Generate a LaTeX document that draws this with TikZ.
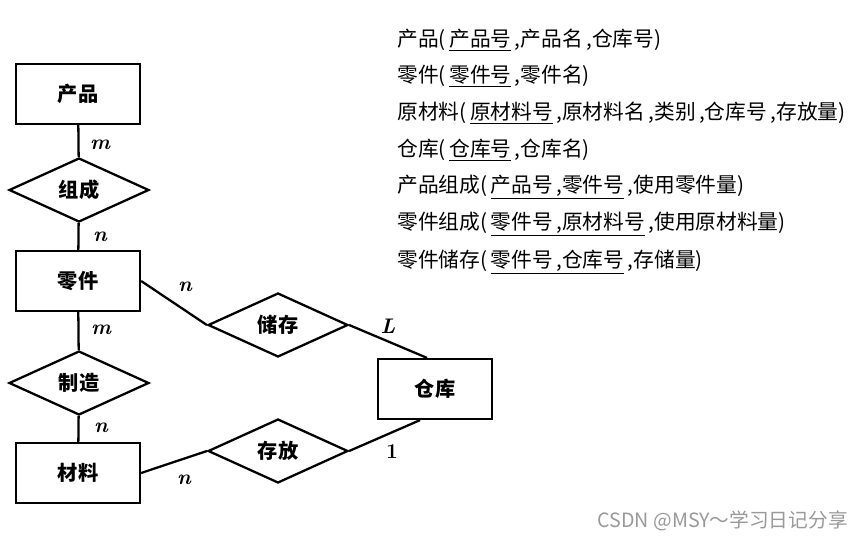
\documentclass[tikz,border=0pt]{standalone}
\usepackage{fontspec}
\newfontfamily\cjk{Noto Sans CJK SC}
\usetikzlibrary{shapes.geometric}

\begin{document}
\begin{tikzpicture}[x=0.02cm, y=-0.02cm,
    entity/.style={draw, line width=1.3pt, minimum width=2.48cm, minimum height=1.2cm, font=\cjk\fontsize{11.5}{13}\selectfont\bfseries},
    relation/.style={draw, diamond, line width=1.3pt, inner sep=0pt, minimum width=2.8cm, minimum height=1.28cm, font=\cjk\fontsize{11.5}{13}\selectfont\bfseries},
    link/.style={line width=1.3pt},
    card/.style={font=\large\bfseries\itshape},
    schema/.style={anchor=west, inner sep=0pt, font=\cjk\fontsize{11.8}{14}\selectfont}]

    \useasboundingbox (0,0) rectangle (865,541);

    %%% entities and relations %%%
    \node[entity]   (cp) at (78,94)   {产品};
    \node[relation] (zc) at (79,190)  {组成};
    \node[entity]   (lj) at (78,281)  {零件};
    \node[relation] (zz) at (79,383)  {制造};
    \node[entity]   (cl) at (78,473)  {材料};
    \node[relation] (cc) at (278,325) {储存};
    \node[relation] (cf) at (278,451) {存放};
    \node[entity, minimum width=2.28cm] (ck) at (435,389) {仓库};

    \draw[link] (cp)--(zc)--(lj)--(zz)--(cl);
    \draw[link] (lj.east)--(cc.west);   \draw[link] (cc.east)--([xshift=-0.16cm]ck.north);
    \draw[link] (cl.east)--(cf.west);   \draw[link] (cf.east)--([xshift=-0.3cm]ck.south);

    %%% cardinalities %%%
    \node[card] (c1) at (100,145) {m};
    \node[card] (c2) at (100,237) {n};
    \node[card] (c3) at (101,330) {m};
    \node[card] (c4) at (101,428) {n};
    \node[card] (c5) at (185,287) {n};
    \node[card] (c6) at (388,326) {L};
    \node[card] (c7) at (184,480) {n};
    \node[card, font=\large\bfseries] (c8) at (392,452) {1};

    %%% relation schemas %%%
    \node[schema] (r1) at (397,40)  {产品(\,\underline{产品号}\,,产品名\,,仓库号)};
    \node[schema] (r2) at (397,76)  {零件(\,\underline{零件号}\,,零件名)};
    \node[schema] (r3) at (397,113) {原材料(\,\underline{原材料号}\,,原材料名\,,类别\,,仓库号\,,存放量)};
    \node[schema] (r4) at (397,150) {仓库(\,\underline{仓库号}\,,仓库名)};
    \node[schema] (r5) at (397,187) {产品组成(\,\underline{产品号\,,零件号}\,,使用零件量)};
    \node[schema] (r6) at (397,224) {零件组成(\,\underline{零件号\,,原材料号}\,,使用原材料量)};
    \node[schema] (r7) at (397,262) {零件储存(\,\underline{零件号\,,仓库号}\,,存储量)};

    \node[anchor=east, text=gray!80, inner sep=0pt, font=\cjk\fontsize{11.2}{13}\selectfont] (wm) at (848,521) {CSDN @MSY～学习日记分享};

\end{tikzpicture}
\end{document}
